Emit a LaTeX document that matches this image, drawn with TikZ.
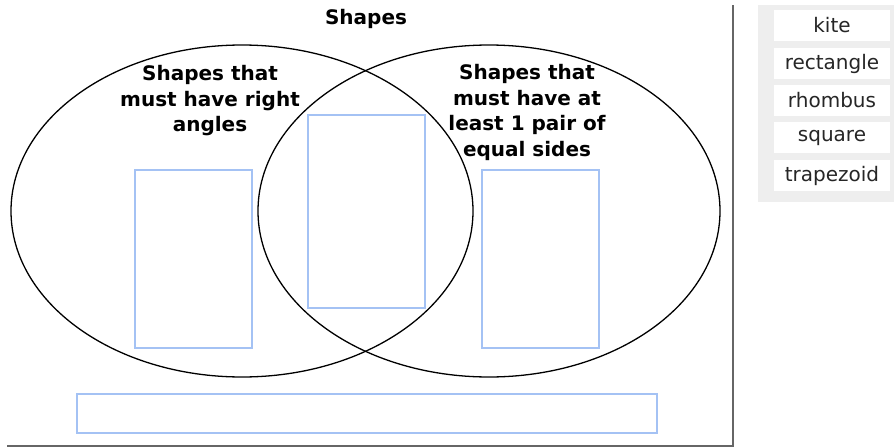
\documentclass[tikz,border=0pt]{standalone}
\usepackage{fontspec}
\setmainfont{DejaVu Sans}
\definecolor{boxblue}{HTML}{A4C2F4}
\definecolor{panelgray}{HTML}{EEEEEE}
\definecolor{linegray}{HTML}{666666}
\tikzset{
  setellipse/.style={draw=black, line width=1.3pt},
  dropbox/.style={draw=boxblue, line width=1.3pt},
  label/.style={font=\bfseries\fontsize{20}{25.5}\selectfont, align=center, inner sep=0pt, text=black},
  word/.style={fill=white, minimum width=116pt, minimum height=31pt, inner sep=0pt, font=\fontsize{20}{22}\selectfont, text=black!85},
}
\begin{document}
\begin{tikzpicture}[x=1pt,y=-1pt]
\useasboundingbox (0,0) rectangle (895,447);
% frame lines
\draw[linegray, line width=2pt] (733,5) -- (733,447);
\draw[linegray, line width=1.5pt] (7,446) -- (733,446);
% ellipses
\draw[setellipse] (242,211) ellipse [x radius=231, y radius=166];
\draw[setellipse] (489,211) ellipse [x radius=231, y radius=166];
% title and labels
\node[label] (title) at (366,19) {Shapes};
\node[label] (lefttxt) at (210,101) {Shapes that\\must have right\\angles};
\node[label] (righttxt) at (527,112.5) {Shapes that\\must have at\\least 1 pair of\\equal sides};
% drop boxes
\draw[dropbox] (135,170) rectangle (252,348);
\draw[dropbox] (308,115) rectangle (425,308);
\draw[dropbox] (482,170) rectangle (599,348);
\draw[dropbox] (77,394) rectangle (657,433);
% word panel
\fill[panelgray] (758,5) rectangle (894,202);
\node[word] (kite) at (832,25.5) {kite};
\node[word] (rect) at (832,63.5) {rectangle};
\node[word] (rhomb) at (832,100.5) {rhombus};
\node[word] (square) at (832,137.5) {square};
\node[word] (trap) at (832,175.5) {trapezoid};
\end{tikzpicture}
\end{document}
